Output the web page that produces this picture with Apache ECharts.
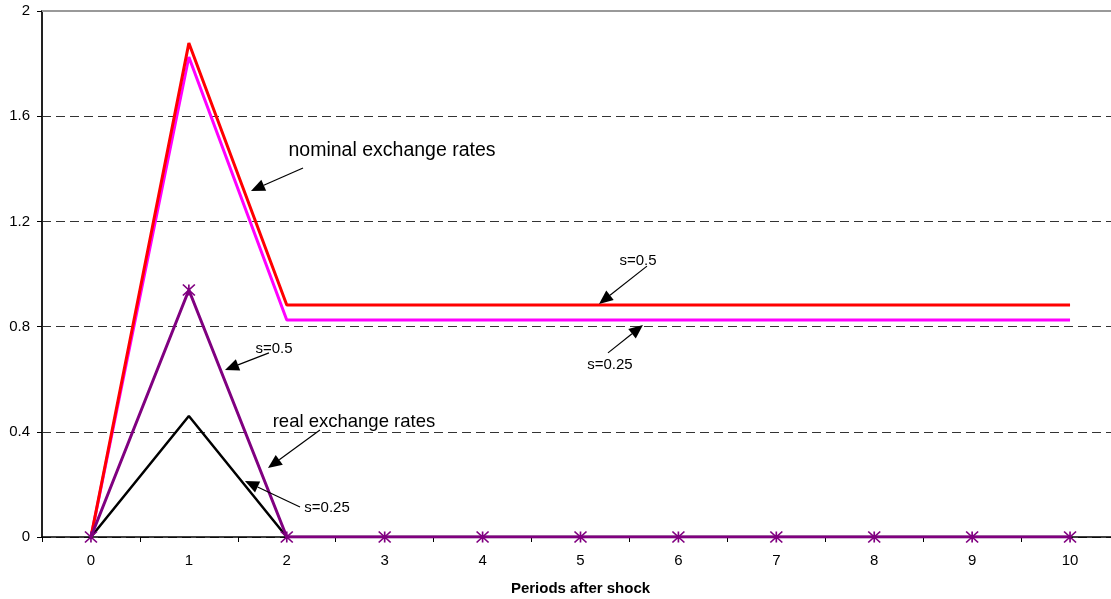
<!DOCTYPE html>
<html>
<head>
<meta charset="utf-8">
<script src="https://cdn.jsdelivr.net/npm/echarts@6/dist/echarts.min.js"></script>
<style>
html,body{margin:0;padding:0;background:#fff;}
#chart{width:1111px;height:599px;}
</style>
</head>
<body>
<div id="chart"></div>
<script>
// ---- data ----
const periods = ['0','1','2','3','4','5','6','7','8','9','10'];
const nominalS05 = [0, 1.878, 0.882, 0.882, 0.882, 0.882, 0.882, 0.882, 0.882, 0.882, 0.882];
const nominalS025 = [0, 1.825, 0.825, 0.825, 0.825, 0.825, 0.825, 0.825, 0.825, 0.825, 0.825];
const realS05 = [0, 0.939, 0, 0, 0, 0, 0, 0, 0, 0, 0];
const realS025 = [0, 0.46, 0, 0, 0, 0, 0, 0, 0, 0, 0];
const yTicks = [0, 0.4, 0.8, 1.2, 1.6, 2];
const xTitle = 'Periods after shock';

// annotations in data space: [categoryIndex, value]
const annoTexts = [
  {text: 'nominal exchange rates', at: [3.075, 1.471], size: 19.5},
  {text: 's=0.5', at: [5.587, 1.049], size: 15},
  {text: 's=0.25', at: [5.301, 0.654], size: 15},
  {text: 's=0.5', at: [1.869, 0.715], size: 15},
  {text: 'real exchange rates', at: [2.686, 0.437], size: 18.5},
  {text: 's=0.25', at: [2.411, 0.110], size: 15}
];
const annoArrows = [
  [[2.166, 1.403], [1.634, 1.316]],
  [[5.679, 1.030], [5.189, 0.886]],
  [[5.281, 0.700], [5.638, 0.806]],
  [[1.818, 0.700], [1.369, 0.635]],
  [[2.339, 0.407], [1.808, 0.262]],
  [[2.135, 0.114], [1.573, 0.213]]
];

const FONT = 'Liberation Sans, Arial, Helvetica, sans-serif';
const chart = echarts.init(document.getElementById('chart'), null, {renderer: 'canvas'});

const option = {
  animation: false,
  backgroundColor: '#ffffff',
  grid: {left: 42, right: -8, top: 11, bottom: 62, containLabel: false, outerBoundsMode: 'none'},
  xAxis: {
    type: 'category',
    data: periods,
    boundaryGap: true,
    name: xTitle,
    nameLocation: 'middle',
    nameGap: 44,
    nameTextStyle: {fontFamily: FONT, fontSize: 15, fontWeight: 'bold', color: '#000'},
    axisLine: {show: true, onZero: false, lineStyle: {color: '#000', width: 1.5}},
    axisTick: {show: true, length: 5, lineStyle: {color: '#000', width: 1}},
    axisLabel: {fontFamily: FONT, fontSize: 15, color: '#000', margin: 16},
    splitLine: {show: false}
  },
  yAxis: {
    type: 'value',
    min: yTicks[0],
    max: yTicks[yTicks.length - 1],
    interval: 0.4,
    axisLine: {show: true, lineStyle: {color: '#222', width: 2}},
    axisTick: {show: true, length: 5, lineStyle: {color: '#000', width: 1}},
    axisLabel: {fontFamily: FONT, fontSize: 15, color: '#000', margin: 12,
      formatter: v => String(Math.round(v * 10) / 10)},
    splitLine: {show: true, lineStyle: {color: '#333', width: 1, type: [9, 5]}}
  },
  series: [
    {
      name: 'real s=0.25', type: 'line', data: realS025, symbol: 'none',
      lineStyle: {color: '#000000', width: 2.5}, z: 2,
      markLine: {
        silent: true, symbol: 'none', label: {show: false},
        lineStyle: {color: '#999', width: 2, type: 'solid'},
        data: [{yAxis: yTicks[yTicks.length - 1]}]
      }
    },
    {
      name: 'nominal s=0.25', type: 'line', data: nominalS025, symbol: 'none',
      lineStyle: {color: '#FF00FF', width: 3}, z: 3
    },
    {
      name: 'nominal s=0.5', type: 'line', data: nominalS05, symbol: 'none',
      lineStyle: {color: '#FF0000', width: 3}, z: 4
    },
    {
      name: 'real s=0.5', type: 'line', data: realS05,
      symbol: 'path://M0,0L12,10M12,0L0,10M6,0L6,10',
      symbolSize: [12, 11], showSymbol: true, showAllSymbol: true,
      itemStyle: {color: 'rgba(0,0,0,0)', borderColor: '#800080', borderWidth: 1.6},
      lineStyle: {color: '#800080', width: 3}, z: 5
    }
  ]
};
chart.setOption(option);

// build annotations via the chart's own coordinate conversion
const a = chart.convertToPixel({gridIndex: 0}, [0, 0]);
const b = chart.convertToPixel({gridIndex: 0}, [1, 1]);
function px(pt) {
  return [a[0] + pt[0] * (b[0] - a[0]), a[1] + pt[1] * (b[1] - a[1])];
}
const graphics = [];
annoTexts.forEach(t => {
  const p = px(t.at);
  graphics.push({
    type: 'text', x: p[0], y: p[1], silent: true, z: 10,
    style: {text: t.text, fontFamily: FONT, fontSize: t.size, fill: '#000',
      textAlign: 'center', textVerticalAlign: 'middle'}
  });
});
annoArrows.forEach(ar => {
  const s = px(ar[0]), e = px(ar[1]);
  const dx = e[0] - s[0], dy = e[1] - s[1];
  const len = Math.sqrt(dx * dx + dy * dy);
  const ux = dx / len, uy = dy / len;
  const hl = 14, hw = 6;
  const bx = e[0] - ux * hl, by = e[1] - uy * hl;
  graphics.push({
    type: 'line', silent: true, z: 10,
    shape: {x1: s[0], y1: s[1], x2: bx, y2: by},
    style: {stroke: '#000', lineWidth: 1.2}
  });
  graphics.push({
    type: 'polygon', silent: true, z: 10,
    shape: {points: [[e[0], e[1]], [bx - uy * hw, by + ux * hw], [bx + uy * hw, by - ux * hw]]},
    style: {fill: '#000'}
  });
});
chart.setOption({graphic: graphics});
</script>
</body>
</html>
